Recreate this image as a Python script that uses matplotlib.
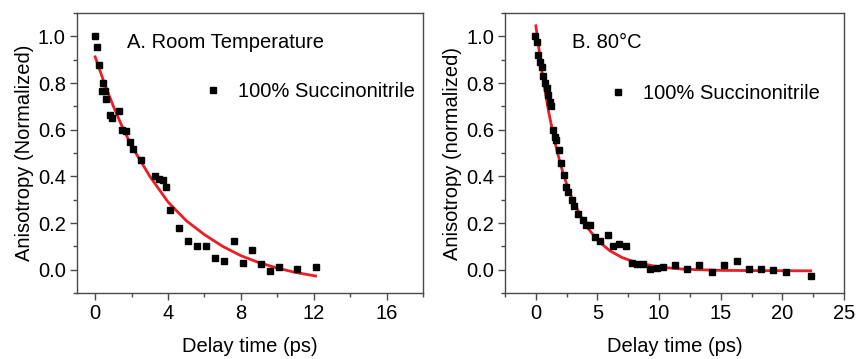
import matplotlib
matplotlib.use('Agg')
from matplotlib import pyplot as plt
from matplotlib.ticker import MultipleLocator

plt.rcParams['font.family'] = ['Liberation Sans', 'DejaVu Sans']

## Panel A: room temperature data
tA = [0.0, 0.1, 0.2, 0.35, 0.45, 0.55, 0.6, 0.8, 0.95, 1.3, 1.5, 1.7, 1.9, 2.1, 2.5,
      3.3, 3.5, 3.7, 3.9, 4.1, 4.6, 5.1, 5.6, 6.1, 6.6, 7.1, 7.6, 8.1, 8.6, 9.1,
      9.6, 10.1, 11.1, 12.1]
rA = [1.0, 0.955, 0.875, 0.765, 0.80, 0.765, 0.73, 0.665, 0.65, 0.68, 0.60, 0.594,
      0.546, 0.516, 0.468, 0.402, 0.388, 0.385, 0.353, 0.256, 0.18, 0.121, 0.103,
      0.103, 0.05, 0.036, 0.124, 0.028, 0.083, 0.024, -0.004, 0.011, 0.004, 0.011]
## Panel A: fitted curve
fitA_t = [0, 0.5, 1, 1.5, 2, 3, 4, 5, 6, 7, 8, 9, 10, 11, 12.1]
fitA_r = [0.912, 0.80, 0.70, 0.61, 0.53, 0.40, 0.29, 0.21, 0.15, 0.10, 0.06, 0.03,
          0.007, -0.012, -0.027]

## Panel B: 80 C data
tB = [-0.05, 0.07, 0.2, 0.33, 0.47, 0.6, 0.73, 0.87, 1.0, 1.13, 1.27, 1.4, 1.53,
      1.67, 1.9, 2.03, 2.27, 2.44, 2.62, 2.9, 3.11, 3.44, 3.79, 4.06, 4.38, 4.79,
      5.19, 5.82, 6.28, 6.76, 7.31, 7.77, 8.2, 8.7, 9.25, 9.8, 10.3, 11.3, 12.3,
      13.26, 14.26, 15.28, 16.3, 17.3, 18.26, 19.26, 20.27, 22.3]
rB = [1.0, 0.975, 0.92, 0.89, 0.87, 0.83, 0.80, 0.78, 0.75, 0.72, 0.70, 0.60, 0.57,
      0.556, 0.513, 0.456, 0.406, 0.356, 0.335, 0.299, 0.274, 0.239, 0.214, 0.192,
      0.192, 0.14, 0.125, 0.15, 0.10, 0.11, 0.10, 0.03, 0.026, 0.026, 0.004, 0.007,
      0.011, 0.018, 0.004, 0.022, -0.01, 0.022, 0.037, 0.004, 0.003, 0.0, -0.012,
      -0.025]
fitB_t = [0, 0.5, 1, 1.5, 2, 2.5, 3, 4, 5, 6, 7, 8, 10, 12, 15, 18, 22.3]
fitB_r = [1.045, 0.848, 0.687, 0.557, 0.451, 0.366, 0.296, 0.193, 0.126, 0.081,
          0.052, 0.033, 0.011, 0.002, -0.003, -0.004, -0.005]

fs = 14.5
red = '#ee1c25'
spine_col = '#4a4a4a'

fig = plt.figure(figsize=(8.57, 3.59), dpi=100)
axA = fig.add_axes([0.0898, 0.1838, 0.4038, 0.78])
axB = fig.add_axes([0.5893, 0.1838, 0.3955, 0.78])

panels = [
    (axA, tA, rA, fitA_t, fitA_r, (-1, 18), 4, 2, 'Anisotropy (Normalized)',
     'A. Room Temperature', (0.1445, 0.893), (0.379, 0.721)),
    (axB, tB, rB, fitB_t, fitB_r, (-2.5, 25), 5, 2.5, 'Anisotropy (normalized)',
     'B. 80°C', (0.198, 0.893), (0.319, 0.714)),
]

for ax, t, r, ft, fr, xl, xmaj, xmin, ylab, title, tpos, lpos in panels:
    ax.plot(t, r, 's', color='black', ms=5, mec='black', lw=0,
            label='100% Succinonitrile', zorder=3)
    ax.plot(ft, fr, '-', color=red, lw=2.0, zorder=2)
    ax.set_xlim(xl)
    ax.set_ylim(-0.1, 1.1)
    ax.xaxis.set_major_locator(MultipleLocator(xmaj))
    ax.xaxis.set_minor_locator(MultipleLocator(xmin))
    ax.yaxis.set_major_locator(MultipleLocator(0.2))
    ax.yaxis.set_minor_locator(MultipleLocator(0.1))
    ax.tick_params(which='both', direction='out', top=False, right=False,
                   color=spine_col, labelsize=fs, pad=3)
    ax.tick_params(which='major', length=5, width=1)
    ax.tick_params(which='minor', length=3, width=1)
    for s in ax.spines.values():
        s.set_color(spine_col)
        s.set_linewidth(1)
    ax.set_xlabel('Delay time (ps)', fontsize=fs, labelpad=10)
    ax.set_ylabel(ylab, fontsize=fs, labelpad=3)
    ax.text(tpos[0], tpos[1], title, transform=ax.transAxes, fontsize=fs,
            ha='left', va='center')
    ax.legend(loc='center left', bbox_to_anchor=lpos, frameon=False,
              fontsize=fs, handlelength=0.5, handletextpad=1.0, borderpad=0,
              borderaxespad=0, numpoints=1)

fig.savefig('out.png', dpi=100)
